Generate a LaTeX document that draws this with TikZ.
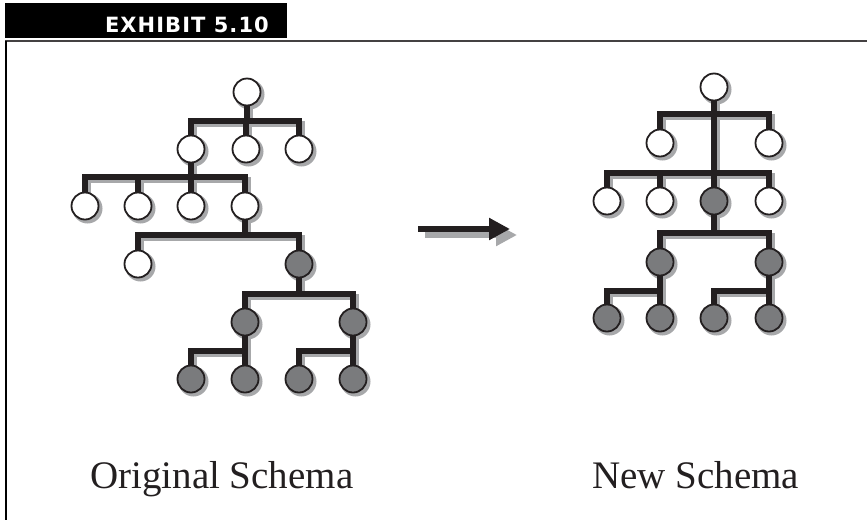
\documentclass[tikz,border=0pt]{standalone}
\usepackage{fontspec}
\setmainfont{Liberation Serif}
\newfontfamily\hdfont{DejaVu Sans}[LetterSpace=5]
\usetikzlibrary{arrows.meta,backgrounds}
\definecolor{inkblack}{HTML}{231F20}
\definecolor{nodegray}{HTML}{7A7B7D}
\definecolor{shadowgray}{HTML}{A7A8AA}
\tikzset{
  wnode/.style={circle,draw=inkblack,line width=1.8pt,fill=white,minimum size=27pt,inner sep=0pt},
  gnode/.style={wnode,fill=nodegray},
  link/.style={line width=6pt,draw=inkblack,line join=miter,
    preaction={draw=shadowgray,line width=6pt,transform canvas={shift={(2.5pt,-2.5pt)}}}},
  arr/.style={line width=6pt,-{Triangle[length=21pt,width=21pt]}},
  caption/.style={anchor=base west,inner sep=0pt,text=inkblack,font=\fontsize{39}{40}\selectfont}
}
\begin{document}
\begin{tikzpicture}[x=1pt,y=-1pt]
\useasboundingbox (0,0) rectangle (867,520);
% frame and header
\fill[black] (5,3) rectangle (287,38);
\node[anchor=base east,inner sep=0pt,text=white,font=\hdfont\bfseries\fontsize{21}{22}\selectfont] (hd) at (269,32) {EXHIBIT 5.10};
\draw[line width=2pt,inkblack!85] (5,41) -- (867,41);
\draw[line width=2pt,black] (6,41) -- (6,520);

% original schema
\node[wnode] (o0) at (247,92) {};
\node[wnode] (o1) at (191,149) {};
\node[wnode] (o2) at (246,149) {};
\node[wnode] (o3) at (299,149) {};
\node[wnode] (o11) at (85,206) {};
\node[wnode] (o12) at (138,206) {};
\node[wnode] (o13) at (191,206) {};
\node[wnode] (o14) at (245,206) {};
\node[wnode] (o141) at (138,264) {};
\node[gnode] (o142) at (299,264) {};
\node[gnode] (o1421) at (245,322) {};
\node[gnode] (o1422) at (353,322) {};
\node[gnode] (oa) at (191,379) {};
\node[gnode] (ob) at (245,379) {};
\node[gnode] (oc) at (299,379) {};
\node[gnode] (od) at (353,379) {};
\coordinate (ob1) at (0,121);
\coordinate (ob2) at (0,177);
\coordinate (ob3) at (0,235);
\coordinate (ob4) at (0,294);
\coordinate (ob5) at (0,351);

% new schema
\node[wnode] (n0) at (714,87) {};
\node[wnode] (n1) at (660,143) {};
\node[wnode] (n2) at (769,143) {};
\node[wnode] (n3) at (607,201) {};
\node[wnode] (n4) at (660,201) {};
\node[gnode] (n5) at (714,201) {};
\node[wnode] (n6) at (769,201) {};
\node[gnode] (n51) at (660,262) {};
\node[gnode] (n52) at (769,262) {};
\node[gnode] (n511) at (607,318) {};
\node[gnode] (n512) at (660,318) {};
\node[gnode] (n521) at (714,318) {};
\node[gnode] (n522) at (769,318) {};
\coordinate (nb1) at (0,114);
\coordinate (nb2) at (0,173);
\coordinate (nb3) at (0,233);
\coordinate (nb4) at (0,291);

\begin{pgfonlayer}{background}
\foreach \n in {o0,o1,o2,o3,o11,o12,o13,o14,o141,o142,o1421,o1422,oa,ob,oc,od,
                n0,n1,n2,n3,n4,n5,n6,n51,n52,n511,n512,n521,n522}
  \fill[shadowgray] ([shift={(2.5pt,-2.5pt)}]\n.center) circle[radius=15pt];
\draw[link] (o0) -- (o0 |- ob1) -| (o1) (o0 |- ob1) -| (o2) (o0 |- ob1) -| (o3)
  (o1) -- (o1 |- ob2) -| (o11) (o1 |- ob2) -| (o12) (o1 |- ob2) -| (o13) (o1 |- ob2) -| (o14)
  (o14) -- (o14 |- ob3) -| (o141) (o14 |- ob3) -| (o142)
  (o142) -- (o142 |- ob4) -| (o1421) (o142 |- ob4) -| (o1422)
  (o1421) -- (o1421 |- ob5) -| (oa) (o1421 |- ob5) -- (ob)
  (o1422) -- (o1422 |- ob5) -| (oc) (o1422 |- ob5) -- (od);
\draw[link] (n0) -- (n0 |- nb2) -| (n3) (n0 |- nb2) -| (n4) (n0 |- nb2) -- (n5) (n0 |- nb2) -| (n6)
  (n0 |- nb1) -| (n1) (n0 |- nb1) -| (n2)
  (n5) -- (n5 |- nb3) -| (n51) (n5 |- nb3) -| (n52)
  (n51) -- (n51 |- nb4) -| (n511) (n51 |- nb4) -- (n512)
  (n52) -- (n52 |- nb4) -| (n521) (n52 |- nb4) -- (n522);
\end{pgfonlayer}

% arrow
\coordinate (as) at (418,229);
\coordinate (ae) at (510,229);
\draw[arr,shadowgray,transform canvas={shift={(7pt,-6pt)}}] (as) -- (ae);
\draw[arr,inkblack] (as) -- (ae);

% captions
\node[caption] (lo) at (90,488) {Original Schema};
\node[caption] (ln) at (592,488) {New Schema};
\end{tikzpicture}
\end{document}
